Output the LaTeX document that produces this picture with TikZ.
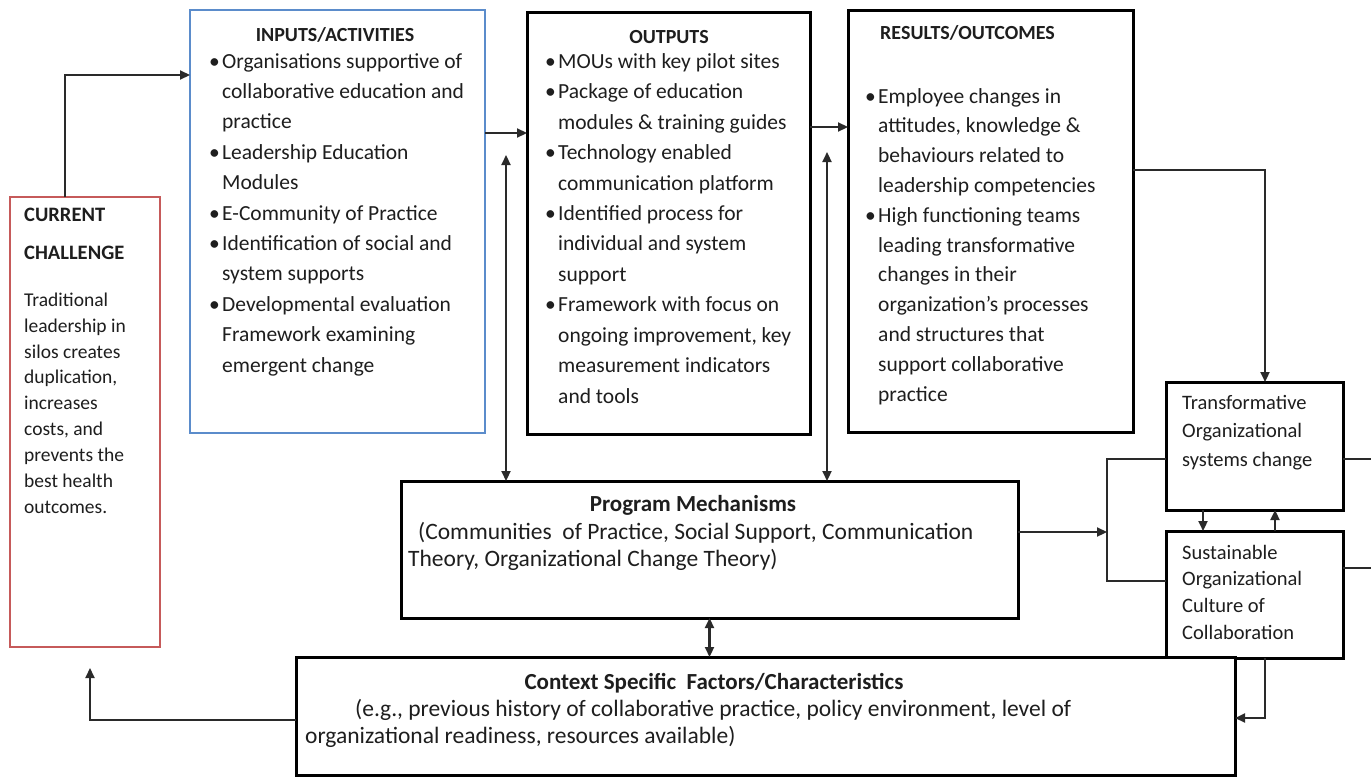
\documentclass[tikz,border=0pt]{standalone}
\usepackage{fontspec}
\setmainfont{Carlito}
\usetikzlibrary{arrows.meta}
\definecolor{inkc}{HTML}{1E1E1E}
\definecolor{linec}{HTML}{2A2A2A}
\definecolor{redbox}{HTML}{C65A5A}
\definecolor{bluebox}{HTML}{5B8CCB}
\newcommand\bmark{\makebox[13pt][l]{\textbullet}}
\newcommand\bindent{\hspace*{13pt}}
\tikzset{
  box/.style={draw=black, line width=3pt, inner sep=0pt, outer sep=0pt, fill=white},
  txt/.style={anchor=north west, inner sep=0pt, align=left, text=inkc},
  head/.style={inner sep=0pt, text=inkc, font=\bfseries\fontsize{20}{24}\selectfont},
  conn/.style={draw=linec, line width=2.2pt},
  arr/.style={conn, -{Triangle[length=10pt,width=9pt]}},
  darr/.style={conn, {Triangle[length=10pt,width=9pt]}-{Triangle[length=10pt,width=9pt]}}
}
\begin{document}
\begin{tikzpicture}[x=1pt,y=-1pt]
\fill[white] (0,0) rectangle (1371,779);
\useasboundingbox (0,0) rectangle (1371,779);

% boxes
\node[box, draw=redbox, line width=2.2pt, minimum width=150pt, minimum height=450pt] (cc) at (85,422) {};
\node[box, draw=bluebox, line width=2.2pt, minimum width=295pt, minimum height=423pt] (inp) at (337.5,221.5) {};
\node[box, minimum width=283pt, minimum height=422pt] (out) at (668.5,223) {};
\node[box, minimum width=285pt, minimum height=422pt] (res) at (990.5,221) {};
\node[box, minimum width=177pt, minimum height=128pt] (tr) at (1254.5,446) {};
\node[box, minimum width=177pt, minimum height=127pt] (su) at (1254.5,594.5) {};
\node[box, minimum width=617pt, minimum height=137pt] (pm) at (709.5,549.5) {};
\node[box, minimum width=939pt, minimum height=118pt] (ctx) at (765.5,716) {};

% current challenge
\node[txt, font=\bfseries\fontsize{20.5}{38}\selectfont] (cch) at (24,194.9) {\strut CURRENT\\CHALLENGE};
\node[txt, font=\fontsize{19.5}{25.9}\selectfont] (ccb) at (24,287.9) {\strut Traditional\\leadership in\\silos creates\\duplication,\\increases\\costs, and\\prevents the\\best health\\outcomes.};

% inputs / activities
\node[head, anchor=base] (inph) at (335,41.5) {INPUTS/ACTIVITIES};
\node[txt, font=\fontsize{21.5}{30.4}\selectfont] (inpb) at (209,46.7) {\strut\bmark Organisations supportive of\\
\bindent collaborative education and\\
\bindent practice\\
\bmark Leadership Education\\
\bindent Modules\\
\bmark E-Community of Practice\\
\bmark Identification of social and\\
\bindent system supports\\
\bmark Developmental evaluation\\
\bindent Framework examining\\
\bindent emergent change};

% outputs
\node[head, anchor=base] (outh) at (669,43) {OUTPUTS};
\node[txt, font=\fontsize{21.5}{30.45}\selectfont] (outb) at (545,46.7) {\strut\bmark MOUs with key pilot sites\\
\bmark Package of education\\
\bindent modules \& training guides\\
\bmark Technology enabled\\
\bindent communication platform\\
\bmark Identified process for\\
\bindent individual and system\\
\bindent support\\
\bmark Framework with focus on\\
\bindent ongoing improvement, key\\
\bindent measurement indicators\\
\bindent and tools};

% results / outcomes
\node[head, anchor=base west] (resh) at (880,39.5) {RESULTS/OUTCOMES};
\node[txt, font=\fontsize{21.5}{29.8}\selectfont] (resb) at (865,82.1) {\strut\bmark Employee changes in\\
\bindent attitudes, knowledge \&\\
\bindent behaviours related to\\
\bindent leadership competencies\\
\bmark High functioning teams\\
\bindent leading transformative\\
\bindent changes in their\\
\bindent organization's processes\\
\bindent and structures that\\
\bindent support collaborative\\
\bindent practice};

% organisational change boxes
\node[txt, font=\fontsize{20.5}{28.5}\selectfont] (trb) at (1182,389) {\strut Transformative\\Organizational\\systems change};
\node[txt, font=\fontsize{20.5}{26.7}\selectfont] (sub) at (1182,540.3) {\strut Sustainable\\Organizational\\Culture of\\Collaboration};

% program mechanisms
\node[head, anchor=base, font=\bfseries\fontsize{23}{27}\selectfont] (pmh) at (693,511) {Program Mechanisms};
\node[txt, font=\fontsize{23.5}{27}\selectfont] (pmb) at (408,520.1) {\strut\hspace*{10pt}(Communities\ \ of Practice, Social Support, Communication\\Theory, Organizational Change Theory)};

% context
\node[head, anchor=base, font=\bfseries\fontsize{23}{27}\selectfont] (ctxh) at (714,689) {Context Specific\ \ Factors/Characteristics};
\node[txt, font=\fontsize{23.5}{27}\selectfont] (ctxb) at (305,697.1) {\strut\hspace*{50pt}(e.g., previous history of collaborative practice, policy environment, level of\\organizational readiness, resources available)};

% free ends of connectors
\coordinate (pa) at (506,155);
\coordinate (pb) at (827,152);
\coordinate (jn) at (1107,532);
\coordinate (e1) at (1371,459);
\coordinate (e2) at (1371,568);
\coordinate (cb) at (90,668);

% connectors
\draw[arr] ([xshift=-20pt]cc.north) |- ([yshift=-65pt]inp.north west);
\draw[arr] ([yshift=-123pt]inp.north east) -- ([yshift=-121pt]out.north west);
\draw[arr] ([yshift=-115pt]out.north east) -- ([yshift=-117pt]res.north west);
\draw[darr] (pa) -- (pa |- pm.north);
\draw[darr] (pb) -- (pb |- pm.north);
\draw[arr] ([yshift=-160pt]res.north east) -| ([xshift=10.5pt]tr.north);
\draw[conn] ([yshift=-13pt]tr.west) -| (jn) |- ([yshift=13.5pt]su.west);
\draw[arr] ([yshift=17.5pt]pm.east) -- (jn);
\draw[arr] ([xshift=-51.5pt]tr.south) -- ([xshift=-51.5pt]su.north);
\draw[arr] ([xshift=20.5pt]su.north) -- ([xshift=20.5pt]tr.south);
\draw[conn] ([yshift=-13pt]tr.east) -- (e1);
\draw[conn] ([yshift=26.5pt]su.east) -- (e2);
\draw[arr] ([xshift=10.5pt]su.south) |- ([yshift=-2pt]ctx.east);
\draw[darr] (pm.south) -- (pm.south |- ctx.north);
\draw[arr] ([yshift=-4pt]ctx.west) -| (cb);
\end{tikzpicture}
\end{document}
